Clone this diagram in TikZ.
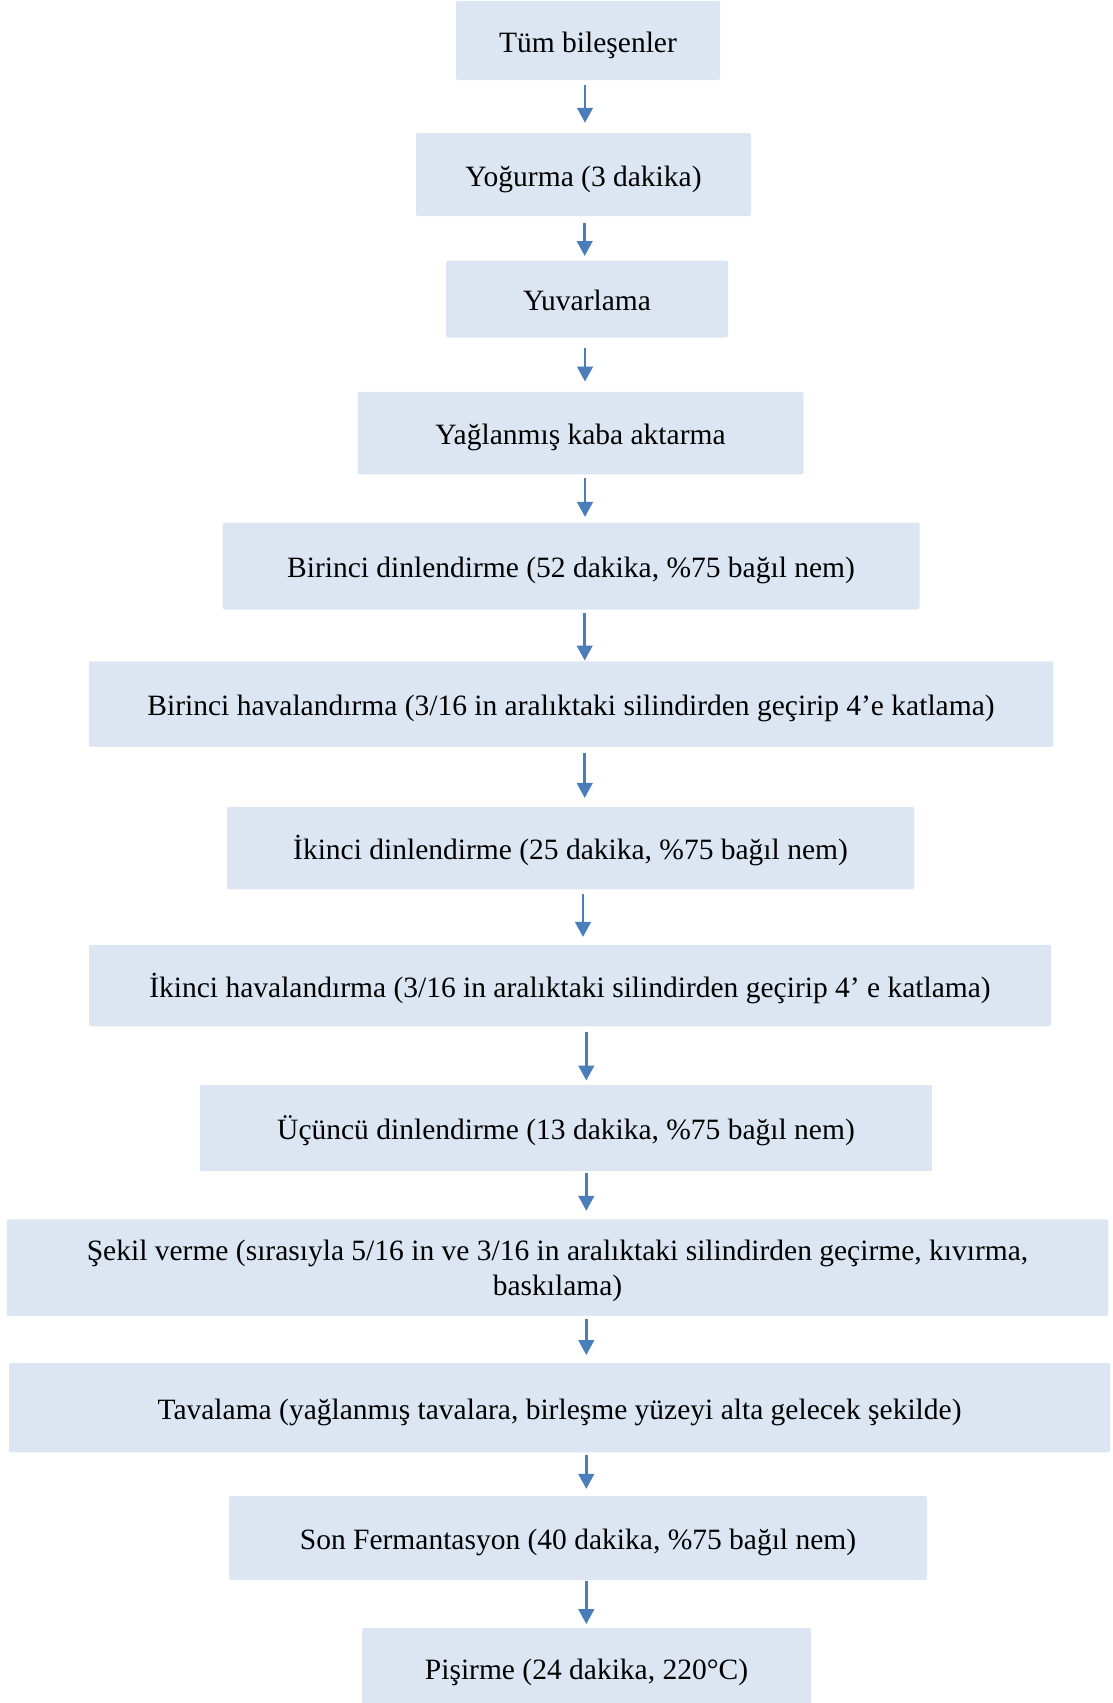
\documentclass[tikz,border=0pt]{standalone}
\usepackage{fontspec}
\setmainfont{Liberation Serif}
\usetikzlibrary{arrows.meta}
\definecolor{boxfill}{HTML}{DCE6F2}
\definecolor{arrowblue}{HTML}{4A7EBB}
\newcommand\flowarrow[5]{\draw[arr, shorten <=#3pt, shorten >=#4pt] (#1.south -| #5) -- (#2.north -| #5);}
\begin{document}
\begin{tikzpicture}[x=1pt,y=-1pt,
  stepbox/.style={fill=boxfill, draw=none, rounded corners=2pt, inner sep=0pt,
    font=\fontsize{29.5}{34.7}\selectfont, text height=28.5pt, text depth=5pt},
  twobox/.style={fill=boxfill, draw=none, rounded corners=2pt, inner sep=0pt,
    font=\fontsize{29.5}{34.7}\selectfont, align=center},
  arr/.style={arrowblue, line width=2.7pt, -{Triangle[width=15.5pt,length=15pt]}}]
\useasboundingbox (0,0) rectangle (1112,1703);
\node[stepbox, minimum width=264pt, minimum height=79pt] (n1) at (588,40.5) {Tüm bileşenler};
\node[stepbox, minimum width=335pt, minimum height=83pt] (n2) at (583.5,174.5) {Yoğurma (3 dakika)};
\node[stepbox, minimum width=282pt, minimum height=77pt] (n3) at (587,299) {Yuvarlama};
\node[stepbox, minimum width=446pt, minimum height=82.5pt] (n4) at (580.5,433) {Yağlanmış kaba aktarma};
\node[stepbox, minimum width=697pt, minimum height=87pt] (n5) at (571,566) {Birinci dinlendirme (52 dakika, \%75 bağıl nem)};
\node[stepbox, minimum width=964.5pt, minimum height=85.5pt] (n6) at (571,704) {Birinci havalandırma (3/16 in aralıktaki silindirden geçirip 4’e katlama)};
\node[stepbox, minimum width=687.5pt, minimum height=82.5pt] (n7) at (570.5,848) {İkinci dinlendirme (25 dakika, \%75 bağıl nem)};
\node[stepbox, minimum width=962pt, minimum height=81.5pt] (n8) at (570,985.5) {İkinci havalandırma (3/16 in aralıktaki silindirden geçirip 4’ e katlama)};
\node[stepbox, minimum width=732pt, minimum height=86pt] (n9) at (566,1128) {Üçüncü dinlendirme (13 dakika, \%75 bağıl nem)};
\node[twobox, minimum width=1101.5pt, minimum height=96.5pt] (n10) at (557.5,1267.5) {\rule{0pt}{27pt}Şekil verme (sırasıyla 5/16 in ve 3/16 in aralıktaki silindirden geçirme, kıvırma,\\ baskılama)};
\node[stepbox, minimum width=1101pt, minimum height=89.5pt] (n11) at (559.5,1407.5) {Tavalama (yağlanmış tavalara, birleşme yüzeyi alta gelecek şekilde)};
\node[stepbox, minimum width=698pt, minimum height=84pt] (n12) at (578,1538) {Son Fermantasyon (40 dakika, \%75 bağıl nem)};
\node[stepbox, minimum width=449pt, minimum height=80pt] (n13) at (586.5,1668) {Pişirme (24 dakika, 220°C)};
\coordinate (xa) at (585,0);
\coordinate (xb) at (584.7,0);
\coordinate (xc) at (583,0);
\coordinate (xd) at (586.3,0);
\flowarrow{n1}{n2}{5}{10}{xa}
\flowarrow{n2}{n3}{6.6}{4.3}{xb}
\flowarrow{n3}{n4}{9.8}{10}{xa}
\flowarrow{n4}{n5}{3.3}{5.4}{xa}
\flowarrow{n5}{n6}{3}{0.5}{xb}
\flowarrow{n6}{n7}{5.8}{8.6}{xb}
\flowarrow{n7}{n8}{4.4}{7.6}{xc}
\flowarrow{n8}{n9}{5.4}{4.3}{xd}
\flowarrow{n9}{n10}{2.2}{8.2}{xd}
\flowarrow{n10}{n11}{2.6}{7.5}{xd}
\flowarrow{n11}{n12}{2.8}{6.9}{xd}
\flowarrow{n12}{n13}{0.5}{3.7}{xd}
\end{tikzpicture}
\end{document}
